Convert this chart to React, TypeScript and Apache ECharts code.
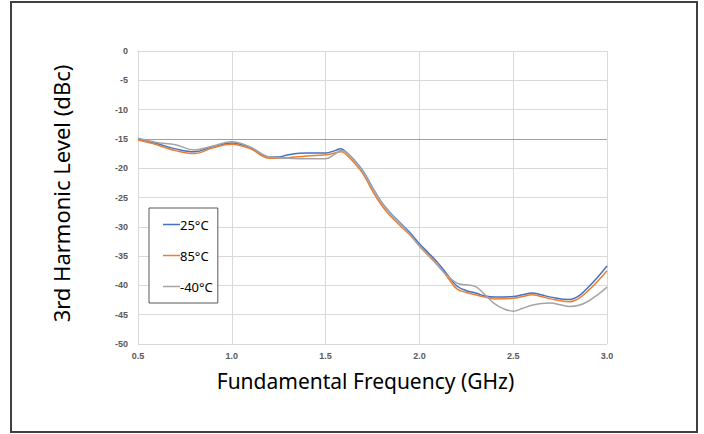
import React, { useEffect, useRef } from "react";
import * as echarts from "echarts";

const freqs25: number[] = [0.5, 0.6, 0.7, 0.8, 0.9, 1.0, 1.1, 1.2, 1.25, 1.3, 1.4, 1.5, 1.55, 1.58, 1.6, 1.65, 1.7, 1.75, 1.8, 1.85, 1.9, 1.95, 2.0, 2.05, 2.1, 2.15, 2.2, 2.25, 2.3, 2.35, 2.4, 2.5, 2.55, 2.6, 2.65, 2.7, 2.8, 2.85, 2.9, 2.95, 3.0];
const level25: number[] = [-15.0, -15.8, -16.7, -17.2, -16.3, -15.7, -16.5, -18.1, -18.1, -17.7, -17.4, -17.4, -17.0, -16.7, -17.0, -18.5, -20.5, -23.3, -25.9, -27.8, -29.4, -31.0, -32.9, -34.5, -36.2, -38.2, -40.1, -40.9, -41.3, -41.8, -42.0, -41.9, -41.6, -41.3, -41.6, -42.0, -42.4, -41.8, -40.3, -38.6, -36.7];

const freqs85: number[] = [0.5, 0.6, 0.7, 0.8, 0.9, 1.0, 1.1, 1.2, 1.25, 1.3, 1.4, 1.5, 1.55, 1.58, 1.6, 1.65, 1.7, 1.75, 1.8, 1.85, 1.9, 1.95, 2.0, 2.05, 2.1, 2.15, 2.2, 2.25, 2.3, 2.35, 2.4, 2.5, 2.55, 2.6, 2.65, 2.7, 2.8, 2.85, 2.9, 2.95, 3.0];
const level85: number[] = [-15.2, -16.0, -17.0, -17.5, -16.5, -15.9, -16.7, -18.3, -18.3, -18.2, -17.9, -17.7, -17.4, -17.2, -17.4, -19.0, -21.0, -23.9, -26.4, -28.3, -29.9, -31.4, -33.2, -34.9, -36.6, -38.6, -40.6, -41.2, -41.6, -42.0, -42.3, -42.2, -41.9, -41.6, -41.9, -42.3, -42.8, -42.2, -40.9, -39.3, -37.5];

const freqsM40: number[] = [0.5, 0.6, 0.7, 0.8, 0.9, 1.0, 1.1, 1.2, 1.25, 1.3, 1.4, 1.5, 1.55, 1.58, 1.6, 1.65, 1.7, 1.75, 1.8, 1.85, 1.9, 1.95, 2.0, 2.05, 2.1, 2.15, 2.2, 2.25, 2.3, 2.35, 2.4, 2.45, 2.5, 2.55, 2.6, 2.65, 2.7, 2.75, 2.8, 2.85, 2.9, 2.95, 3.0];
const levelM40: number[] = [-14.9, -15.6, -16.0, -16.9, -16.2, -15.5, -16.4, -18.1, -18.2, -18.3, -18.4, -18.4, -17.6, -17.0, -17.1, -18.6, -20.6, -23.4, -25.9, -27.9, -29.5, -31.3, -33.3, -35.0, -36.7, -38.4, -39.6, -39.9, -40.2, -41.6, -43.1, -44.0, -44.4, -43.9, -43.4, -43.1, -43.0, -43.3, -43.6, -43.4, -42.7, -41.6, -40.3];

const seriesNames: string[] = ["25°C", "85°C", "-40°C"];
const seriesColors: string[] = ["#4472c4", "#ed7d31", "#a5a5a5"];
const referenceLevel = -15;

const xTitle = "Fundamental Frequency (GHz)";
const yTitle = "3rd Harmonic Level (dBc)";

const zip = (xs: number[], ys: number[]) => xs.map((x, i) => [x, ys[i]]);

export default function App() {
  const ref = useRef<HTMLDivElement>(null);
  useEffect(() => {
    if (!ref.current) return;
    const chart = echarts.init(ref.current, null, { renderer: "svg" });
    const tick = { color: "#595959", fontSize: 9, fontWeight: "bold" as const, fontFamily: "Liberation Sans, Arial, sans-serif" };
    const datasets = [zip(freqs25, level25), zip(freqs85, level85), zip(freqsM40, levelM40)];
    chart.setOption({
      animation: false,
      backgroundColor: "#ffffff",
      grid: { left: 138, right: 97, top: 51, bottom: 90, containLabel: false },
      graphic: [
        {
          type: "rect",
          shape: { x: 11, y: 2, width: 686, height: 430 },
          style: { fill: "none", stroke: "#404040", lineWidth: 2 },
          silent: true,
        },
      ],
      legend: {
        data: seriesNames,
        orient: "vertical",
        left: 149,
        top: 208,
        icon: "rect",
        itemWidth: 17,
        itemHeight: 1.5,
        itemGap: 18,
        padding: [10, 5, 10, 14],
        borderColor: "#595959",
        borderWidth: 1,
        backgroundColor: "#ffffff",
        textStyle: { color: "#000000", fontSize: 13, fontFamily: "Noto Sans", padding: [0, 0, 0, -5] },
      },
      xAxis: {
        type: "value",
        min: 0.5,
        max: 3.0,
        interval: 0.5,
        name: xTitle,
        nameLocation: "middle",
        nameGap: 26,
        nameTextStyle: { fontSize: 21, fontFamily: "Noto Sans", color: "#000000", padding: [0, 14, 0, 0] },
        axisLine: { show: true, lineStyle: { color: "#d9d9d9" } },
        axisTick: { show: false },
        axisLabel: { ...tick, margin: 7, formatter: (v: number) => v.toFixed(1) },
        splitLine: { show: true, lineStyle: { color: "#d9d9d9", width: 1 } },
      },
      yAxis: {
        type: "value",
        min: -50,
        max: 0,
        interval: 5,
        name: yTitle,
        nameLocation: "middle",
        nameGap: 66,
        nameTextStyle: { fontSize: 22, fontFamily: "Noto Sans", color: "#000000", padding: [0, 0, 0, 8] },
        axisLine: { show: true, lineStyle: { color: "#d9d9d9" } },
        axisTick: { show: false },
        axisLabel: { ...tick, margin: 10 },
        splitLine: { show: true, lineStyle: { color: "#d9d9d9", width: 1 } },
      },
      series: seriesNames.map((name, i) => ({
        name,
        type: "line",
        data: datasets[i],
        smooth: 0.4,
        showSymbol: false,
        symbol: "none",
        lineStyle: { color: seriesColors[i], width: 1.5 },
        itemStyle: { color: seriesColors[i] },
        z: 3 + i,
        markLine:
          i === 0
            ? {
                silent: true,
                symbol: "none",
                label: { show: false },
                lineStyle: { color: "#a0a0a0", width: 1, type: "solid" },
                data: [{ yAxis: referenceLevel }],
                z: 2,
              }
            : undefined,
      })),
    });
    return () => chart.dispose();
  }, []);
  return <div ref={ref} style={{ position: "fixed", left: 0, top: 0, width: 704, height: 434 }} />;
}
